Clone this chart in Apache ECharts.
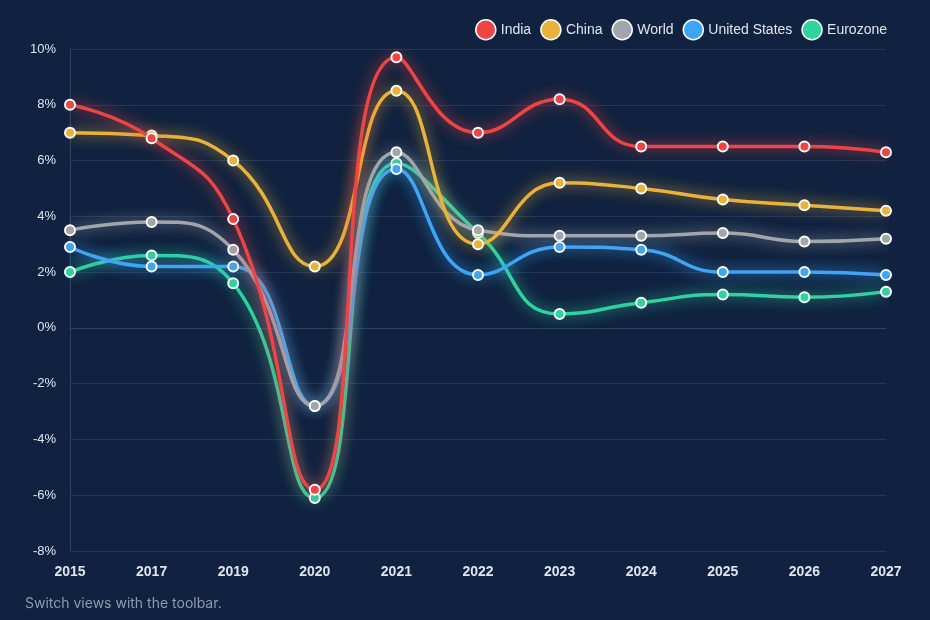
<!DOCTYPE html>
<html>
<head>
<meta charset="utf-8">
<script src="https://cdn.jsdelivr.net/npm/echarts@6/dist/echarts.min.js"></script>
<style>
  html, body { margin: 0; padding: 0; background: #10223f; }
  #chart { width: 930px; height: 620px; }
</style>
</head>
<body>
<div id="chart"></div>
<script>
// GDP growth, % per year
const years = ['2015', '2017', '2019', '2020', '2021', '2022', '2023', '2024', '2025', '2026', '2027']
const india = [8.0, 6.8, 3.9, -5.8, 9.7, 7.0, 8.2, 6.5, 6.5, 6.5, 6.3]
const china = [7.0, 6.9, 6.0, 2.2, 8.5, 3.0, 5.2, 5.0, 4.6, 4.4, 4.2]
const world = [3.5, 3.8, 2.8, -2.8, 6.3, 3.5, 3.3, 3.3, 3.4, 3.1, 3.2]
const unitedStates = [2.9, 2.2, 2.2, -2.8, 5.7, 1.9, 2.9, 2.8, 2.0, 2.0, 1.9]
const eurozone = [2.0, 2.6, 1.6, -6.1, 5.9, 3.4, 0.5, 0.9, 1.2, 1.1, 1.3]

const seriesDefs = [
    { name: 'India', data: india, color: '#ef4444' },
    { name: 'China', data: china, color: '#e9b23b' },
    { name: 'World', data: world, color: '#a1a5ad' },
    { name: 'United States', data: unitedStates, color: '#3ea5f6' },
    { name: 'Eurozone', data: eurozone, color: '#2ed3a0' }
]

const chart = echarts.init(document.getElementById('chart'), null, { renderer: 'canvas' })

const option = {
    backgroundColor: '#10223f',
    animation: false,
    title: {
        text: 'Switch views with the toolbar.',
        left: 20,
        bottom: 4,
        textStyle: { color: '#8d9bb0', fontSize: 14, fontWeight: 'normal', fontFamily: 'Inter' }
    },
    legend: {
        top: 14,
        right: 38,
        icon: 'circle',
        itemWidth: 20,
        itemHeight: 20,
        itemGap: 9,
        textStyle: { color: '#dfe5ee', fontSize: 14, fontFamily: 'Liberation Sans' },
        itemStyle: { borderColor: '#ffffff', borderWidth: 1.5 }
    },
    grid: { left: 70, right: 44, top: 49, bottom: 69 },
    xAxis: {
        type: 'category',
        data: years,
        boundaryGap: false,
        axisLine: { show: true, lineStyle: { color: '#2f4363' } },
        axisTick: { show: false },
        axisLabel: { color: '#dfe5ee', fontSize: 14, fontWeight: 'bold', margin: 14, fontFamily: 'Liberation Sans' },
        splitLine: { show: false }
    },
    yAxis: {
        type: 'value',
        min: -8,
        max: 10,
        interval: 2,
        axisLine: { show: true, lineStyle: { color: '#2f4363' } },
        axisTick: { show: false },
        axisLabel: { color: '#dfe5ee', fontSize: 13, formatter: '{value}%', margin: 14, fontFamily: 'Liberation Sans' },
        splitLine: { lineStyle: { color: '#22365a' } }
    },
    // later series sit underneath: India is drawn on top
    series: seriesDefs.map((s, i) => ({
        name: s.name,
        type: 'line',
        smooth: 0.5,
        data: s.data,
        z: 10 - i,
        symbol: 'circle',
        symbolSize: 10,
        color: s.color,
        lineStyle: { width: 3.5, color: s.color, shadowBlur: 14, shadowColor: s.color },
        itemStyle: { color: s.color, borderColor: '#ffffff', borderWidth: 2 }
    }))
}

chart.setOption(option)
</script>
</body>
</html>
